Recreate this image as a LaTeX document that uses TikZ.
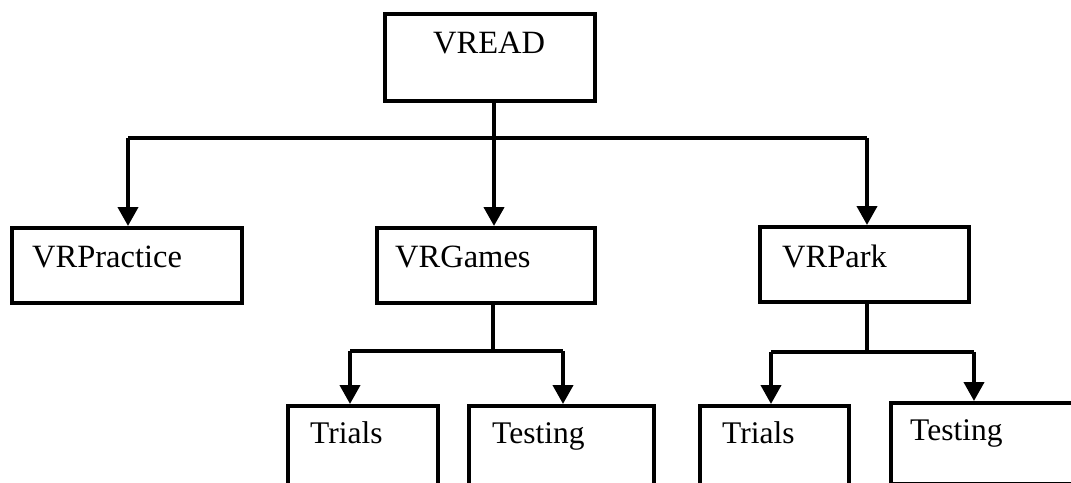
\documentclass[tikz,border=0pt]{standalone}
\usepackage{fontspec}
\setmainfont{Liberation Serif}
\usetikzlibrary{arrows.meta}
\begin{document}
\begin{tikzpicture}[x=1pt,y=-1pt,
  box/.style={draw=black, line width=3.5pt, rectangle, inner sep=0pt, anchor=north west},
  toptext/.style={anchor=base west, inner sep=0pt, font=\fontsize{32.5}{38}\selectfont},
  subtext/.style={anchor=base west, inner sep=0pt, font=\fontsize{31.5}{37}\selectfont},
  conn/.style={draw=black, line width=3.5pt},
  bus/.style={draw=black, line width=3.2pt},
  arr/.style={draw=black, line width=4pt, -{Triangle[width=20pt,length=19pt]}}]
\useasboundingbox (0,0) rectangle (1071,482);
\clip (0,0) rectangle (1071,482);
% boxes
\node[box, minimum width=210pt, minimum height=87pt] (vread) at (383,12) {};
\node[box, minimum width=230pt, minimum height=75pt] (vrpractice) at (10,226) {};
\node[box, minimum width=218pt, minimum height=75pt] (vrgames) at (375,226) {};
\node[box, minimum width=209pt, minimum height=75pt] (vrpark) at (758,225) {};
\node[box, minimum width=150pt, minimum height=116pt] (trialsA) at (286,404) {};
\node[box, minimum width=185pt, minimum height=116pt] (testingA) at (467,404) {};
\node[box, minimum width=149pt, minimum height=116pt] (trialsB) at (698,404) {};
\node[box, minimum width=221pt, minimum height=81pt] (testingB) at (889,401) {};
% texts
\node[toptext] (tvread) at (433,53) {VREAD};
\node[toptext] (tvrpractice) at (32,267) {VRPractice};
\node[toptext] (tvrgames) at (395,267) {VRGames};
\node[toptext] (tvrpark) at (782,267) {VRPark};
\node[subtext] (ttrialsA) at (310,443) {Trials};
\node[subtext] (ttestingA) at (492,443) {Testing};
\node[subtext] (ttrialsB) at (722,443) {Trials};
\node[subtext] (ttestingB) at (910,440) {Testing};
% top level connectors
\coordinate (b0) at (494,138);
\coordinate (bl) at (128,138);
\coordinate (br) at (867,138);
\draw[conn, line width=4.2pt] (b0 |- vread.south) -- (b0);
\draw[bus] (bl) -- (br);
\draw[arr] (bl) -- (bl |- vrpractice.north);
\draw[arr, line width=4.2pt] (b0) -- (b0 |- vrgames.north);
\draw[arr] (br) -- (br |- vrpark.north);
% VRGames children
\coordinate (g0) at (493,351);
\coordinate (gl) at (350,351);
\coordinate (gr) at (563,351);
\draw[conn] (g0 |- vrgames.south) -- (g0);
\draw[conn] (gl) -- (gr);
\draw[arr] (gl) -- (gl |- trialsA.north);
\draw[arr] (gr) -- (gr |- testingA.north);
% VRPark children
\coordinate (p0) at (867,352);
\coordinate (pl) at (771,352);
\coordinate (pr) at (974,352);
\draw[conn] (p0 |- vrpark.south) -- (p0);
\draw[conn] (pl) -- (pr);
\draw[arr] (pl) -- (pl |- trialsB.north);
\draw[arr] (pr) -- (pr |- testingB.north);
\end{tikzpicture}
\end{document}
